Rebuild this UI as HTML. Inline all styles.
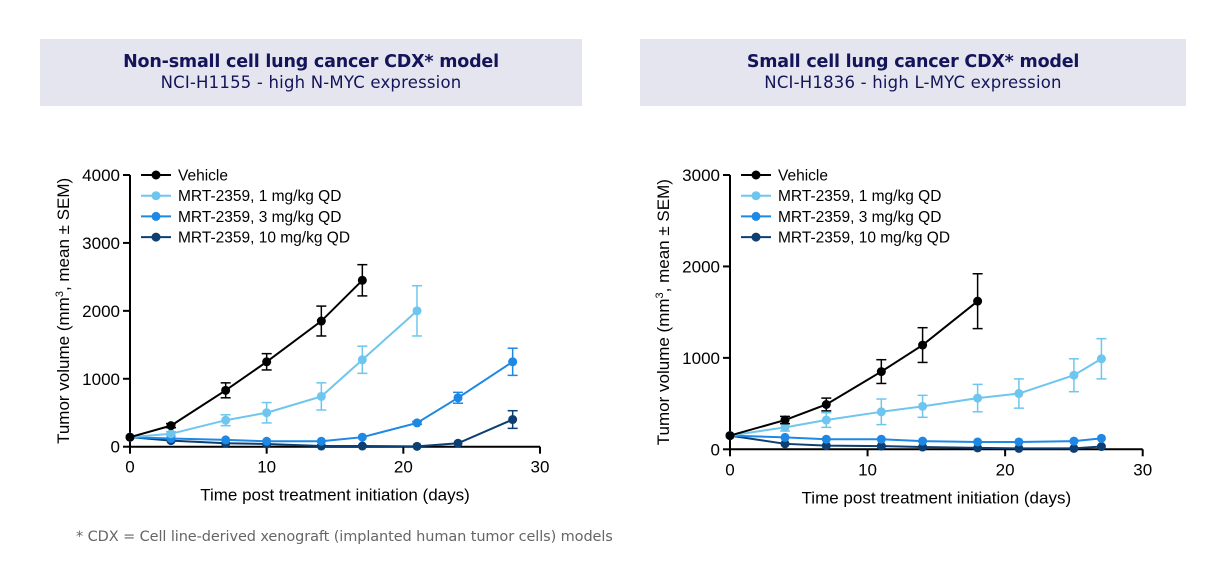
<!DOCTYPE html>
<html><head><meta charset="utf-8"><style>
body{margin:0;background:#fff;width:1223px;height:571px;overflow:hidden;font-family:"Liberation Sans",sans-serif}
.hdr{position:absolute;top:39px;height:67px;background:#e4e5ee;color:#14145a;text-align:center;font-family:"DejaVu Sans","Liberation Sans",sans-serif}
.hdr b{display:block;font-size:17.5px;margin-top:13px;letter-spacing:-0.2px}
.hdr span{display:block;font-size:16.5px;margin-top:1px;letter-spacing:0.2px}
#foot{position:absolute;left:76px;top:529px;font-size:14.5px;color:#666;font-family:"DejaVu Sans","Liberation Sans",sans-serif;letter-spacing:-0.1px}
svg{position:absolute;left:0;top:0}
</style></head><body>
<div class="hdr" style="left:40px;width:542px"><b>Non-small cell lung cancer CDX* model</b><span>NCI-H1155 - high N-MYC expression</span></div>
<div class="hdr" style="left:640px;width:546px"><b>Small cell lung cancer CDX* model</b><span>NCI-H1836 - high L-MYC expression</span></div>
<div id="foot">* CDX = Cell line-derived xenograft (implanted human tumor cells) models</div>
<svg id="chart" width="1223" height="571"></svg>
<script>
const colors=["#000000","#6ec6ee","#1e88e5","#0d3f72"];
const seriesNames=["Vehicle","MRT-2359, 1 mg/kg QD","MRT-2359, 3 mg/kg QD","MRT-2359, 10 mg/kg QD"];
const xTicks=[0,10,20,30];
const L_yTicks=[0,1000,2000,3000,4000];
const R_yTicks=[0,1000,2000,3000];
const L_days=[[0,3,7,10,14,17],[0,3,7,10,14,17,21],[0,3,7,10,14,17,21,24,28],[0,3,7,10,14,17,21,24,28]];
const L_vals=[[140,310,830,1250,1850,2450],[140,190,390,500,740,1280,2000],[140,120,100,80,80,140,350,720,1250],[140,90,50,40,10,10,5,50,400]];
const L_err=[[0,30,110,120,220,230],[0,30,80,150,200,200,370],[0,0,0,0,0,0,20,80,200],[0,0,0,0,0,0,0,0,130]];
const R_days=[[0,4,7,11,14,18],[0,4,7,11,14,18,21,25,27],[0,4,7,11,14,18,21,25,27],[0,4,7,11,14,18,21,25,27]];
const R_vals=[[150,320,490,850,1140,1620],[150,240,320,410,470,560,610,810,990],[150,130,110,110,90,80,80,90,120],[150,60,40,35,25,15,10,10,30]];
const R_err=[[0,40,70,130,190,300],[0,40,80,140,120,150,160,180,220],[0,0,0,0,0,0,0,0,0],[0,0,0,0,0,0,0,0,0]];
const svg=document.getElementById('chart');
const NS="http://www.w3.org/2000/svg";
function el(t,a,p){const e=document.createElementNS(NS,t);for(const k in a)e.setAttribute(k,a[k]);(p||svg).appendChild(e);return e;}
function chart(id,x0,x1,y0,y1,ymax,yTicks,days,vals,errs){
  const g=el('g',{});
  
  
  const X=d=>x0+(x1-x0)*d/30, Y=v=>y0-(y0-y1)*v/ymax;
  el('line',{x1:x0,y1:y0,x2:x1,y2:y0,stroke:'#000','stroke-width':2},g);
  el('line',{x1:x0,y1:y0,x2:x0,y2:y1,stroke:'#000','stroke-width':2},g);
  xTicks.forEach(t=>{el('line',{x1:X(t),y1:y0,x2:X(t),y2:y0+7,stroke:'#000','stroke-width':2},g);
    const tx=el('text',{x:X(t),y:y0+26,'text-anchor':'middle','font-size':17},g);tx.textContent=t;
    });
  yTicks.forEach(t=>{el('line',{x1:x0-7,y1:Y(t),x2:x0,y2:Y(t),stroke:'#000','stroke-width':2},g);
    const tx=el('text',{x:x0-10,y:Y(t)+6,'text-anchor':'end','font-size':17},g);tx.textContent=t;
    });
  const xt=el('text',{x:(x0+x1)/2,y:y0+54,'text-anchor':'middle','font-size':17},g);
  xt.textContent='Time post treatment initiation (days)';
  
  const yt=el('text',{transform:`translate(${x0-61},${(y0+y1)/2}) rotate(-90)`,'text-anchor':'middle','font-size':17},g);
  yt.innerHTML='Tumor volume (mm<tspan dy="-6" font-size="11">3</tspan><tspan dy="6">, mean ± SEM)</tspan>';
  
  for(let s=3;s>=0;s--){
    const c=colors[s];
    const pts=days[s].map((d,i)=>X(d)+','+Y(vals[s][i])).join(' ');
    const pl=el('polyline',{points:pts,fill:'none',stroke:c,'stroke-width':2},g);
    
    days[s].forEach((d,i)=>{
      const e=errs[s][i];
      if(e>0){const cx=X(d),a=Y(vals[s][i]+e),b=Y(vals[s][i]-e);
        el('line',{x1:cx,y1:a,x2:cx,y2:b,stroke:c,'stroke-width':1.5},g);
        el('line',{x1:cx-5,y1:a,x2:cx+5,y2:a,stroke:c,'stroke-width':1.5},g);
        el('line',{x1:cx-5,y1:b,x2:cx+5,y2:b,stroke:c,'stroke-width':1.5},g);}
      const p=el('circle',{cx:X(d),cy:Y(vals[s][i]),r:4.5,fill:c},g);
      
    });
  }
  seriesNames.forEach((n,i)=>{
    const ly=y1+i*20.7;
    el('line',{x1:x0+11,y1:ly,x2:x0+41,y2:ly,stroke:colors[i],'stroke-width':2},g);
    el('circle',{cx:x0+26,cy:ly,r:4.5,fill:colors[i]},g);
    const t=el('text',{x:x0+48,y:ly+5.5,'font-size':15.5},g);t.textContent=n;
    
  });
}
chart('left-chart',130,540,446.7,175,4000,L_yTicks,L_days,L_vals,L_err);
chart('right-chart',730,1142.7,449.3,175,3000,R_yTicks,R_days,R_vals,R_err);
</script>
</body></html>
